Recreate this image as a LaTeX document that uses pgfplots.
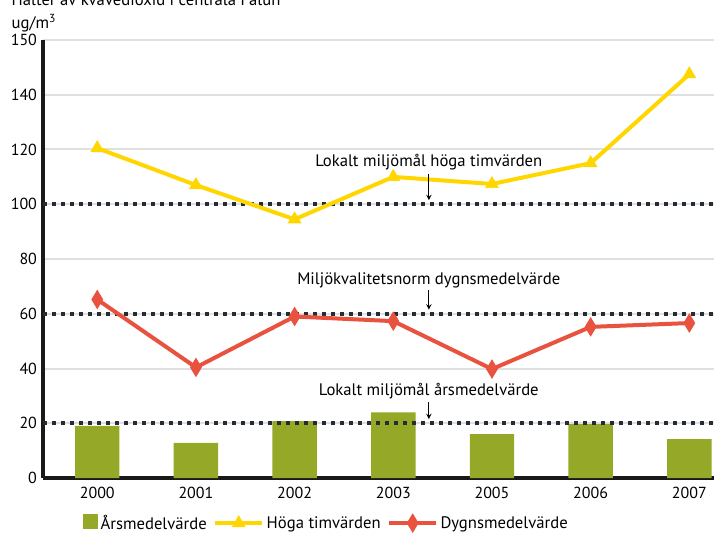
\documentclass[border=0pt]{standalone}
\usepackage{fontspec}
\setmainfont{PT Sans}
\usepackage{pgfplots}
\pgfplotsset{compat=1.18}
\definecolor{bargreen}{HTML}{95A828}
\definecolor{lineyellow}{HTML}{FFD600}
\definecolor{linered}{HTML}{E8523E}
\definecolor{dotcol}{HTML}{262C34}
\pgfplotsset{
  linelegend/.style={legend image code/.code={\draw[##1, mark repeat=2, mark phase=2] plot coordinates {(0pt,0pt) (17.5pt,0pt) (35pt,0pt)};}},
  barlegend/.style={legend image code/.code={\fill[bargreen] (0pt,-4.5pt) rectangle (11pt,6.5pt);}},
}
\begin{document}
\begin{tikzpicture}
\begin{axis}[
  at={(0pt,0pt)}, anchor=south west,
  scale only axis, width=503.25pt, height=328.5pt,
  xmin=-0.55, xmax=6.25, ymin=0, ymax=160,
  axis lines=left,
  axis line style={-, line width=3pt, black!90},
  major tick length=0pt,
  ytick={0,20,40,60,80,100,120,140,160},
  yticklabels={0,20,40,60,80,100,120,140,150},
  xtick={0,1,2,3,4,5,6},
  xticklabels={2000,2001,2002,2003,2005,2006,2007},
  ymajorgrids, grid style={black!12, line width=1.5pt},
  tick label style={font=\fontsize{12}{14}\selectfont},
  /pgf/number format/assume math mode=true,
  yticklabel style={xshift=-1pt},
  xticklabel style={yshift=-3pt},
  clip=false,
  legend style={at={(0.423,-0.103)}, anchor=center, legend columns=3, draw=none,
    font=\fontsize{12.5}{14}\selectfont, fill=none, inner xsep=0pt,
    /tikz/every even column/.append style={column sep=3pt}},
]
\addplot[ybar, bar width=0.45, fill=bargreen, draw=none, barlegend]
  coordinates {(0,19) (1,12.8) (2,20.8) (3,24) (4,16) (5,19.7) (6,14.2)};
\addlegendentry{Årsmedelvärde}
\addplot[forget plot, dotcol, line width=3.2pt, dash pattern=on 3.3pt off 3.45pt] coordinates {(-0.55,100) (6.25,100)};
\addplot[forget plot, dotcol, line width=3.2pt, dash pattern=on 3.3pt off 3.45pt] coordinates {(-0.55,60) (6.25,60)};
\addplot[forget plot, dotcol, line width=3.2pt, dash pattern=on 3.3pt off 3.45pt] coordinates {(-0.55,20) (6.25,20)};
\addplot[lineyellow, line width=3pt, mark=triangle*, mark size=5.5pt, mark options={solid, line width=0.5pt}, linelegend]
  coordinates {(0,120.5) (1,107) (2,94.5) (3,110) (4,107.4) (5,115) (6,147.5)};
\addlegendentry{Höga timvärden}
\addplot[linered, line width=3pt, mark=diamond*, mark size=5.5pt, mark options={solid, line width=0.5pt, yscale=1.25}, linelegend]
  coordinates {(0,65.2) (1,40.4) (2,59) (3,57.3) (4,39.8) (5,55.2) (6,56.6)};
\addlegendentry{Dygnsmedelvärde}
\node[font=\fontsize{12.5}{14}\selectfont] at (axis cs:3.36,115.5) {Lokalt miljömål höga timvärden};
\draw[-stealth, line width=0.8pt] (axis cs:3.36,111) -- (axis cs:3.36,101.5);
\node[font=\fontsize{12.5}{14}\selectfont] at (axis cs:3.36,72.3) {Miljökvalitetsnorm dygnsmedelvärde};
\draw[-stealth, line width=0.8pt] (axis cs:3.36,68.5) -- (axis cs:3.36,61.5);
\node[font=\fontsize{12.5}{14}\selectfont] at (axis cs:3.36,31.8) {Lokalt miljömål årsmedelvärde};
\draw[-stealth, line width=0.8pt] (axis cs:3.36,27.8) -- (axis cs:3.36,21.5);
\end{axis}
\node[anchor=west, font=\fontsize{12.5}{14}\selectfont] at (-27pt,341pt) {ug/m\textsuperscript{3}};
\node[anchor=west, font=\fontsize{12.5}{14}\selectfont] at (-27pt,359pt) {Halter av kvävedioxid i centrala Falun};
\pgfresetboundingbox
\useasboundingbox (-32.25pt,-40.5pt) rectangle (503.25pt,358.5pt);
\end{tikzpicture}
\end{document}
